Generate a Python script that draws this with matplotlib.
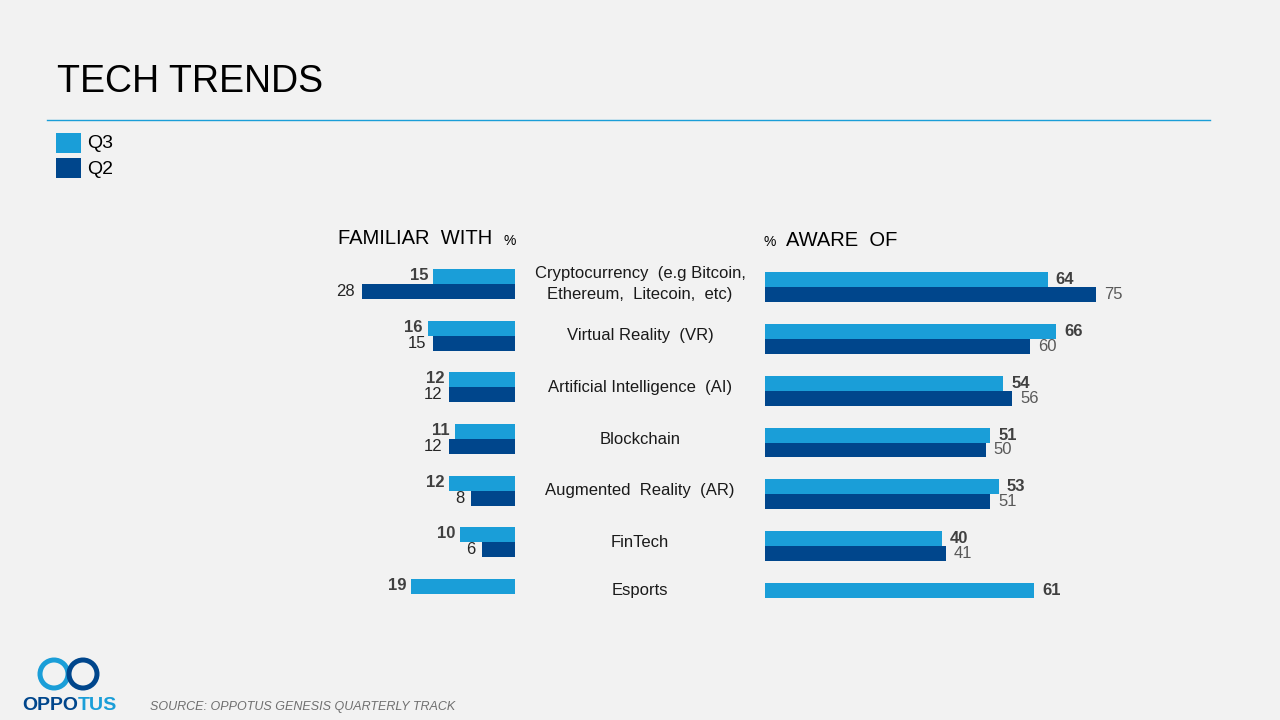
import matplotlib
matplotlib.use("Agg")
import matplotlib.pyplot as plt
from matplotlib.patches import Rectangle, Circle
from matplotlib.transforms import blended_transform_factory

plt.rcParams['font.family'] = ['Liberation Sans', 'DejaVu Sans']

categories = ["Cryptocurrency  (e.g Bitcoin,\nEthereum,  Litecoin,  etc)",
              "Virtual Reality  (VR)", "Artificial Intelligence  (AI)",
              "Blockchain", "Augmented  Reality  (AR)", "FinTech", "Esports"]
familiar_q3 = [15, 16, 12, 11, 12, 10, 19]
familiar_q2 = [28, 15, 12, 12, 8, 6, None]
aware_q3 = [64, 66, 54, 51, 53, 40, 61]
aware_q2 = [75, 60, 56, 50, 51, 41, None]
series_names = ["Q3", "Q2"]

C_Q3 = "#1A9ED8"
C_Q2 = "#00468C"
BG = "#F2F2F2"
W, H = 1280, 720

fig = plt.figure(figsize=(12.8, 7.2), dpi=100, facecolor=BG)


def box(x0, y0, x1, y1):
    # pixel box (top-left origin) -> figure fraction rect
    return [x0 / W, 1 - y1 / H, (x1 - x0) / W, (y1 - y0) / H]


bh = 0.29

# left chart: familiar with
axl = fig.add_axes(box(330, 258, 515, 620))
axl.set_xlim(185 / 5.46, 0)
axl.set_ylim(len(categories) - 0.5, -0.5)
for i, (a, b) in enumerate(zip(familiar_q3, familiar_q2)):
    axl.barh(i - bh / 2, a, height=bh, color=C_Q3)
    axl.annotate(str(a), xy=(a, i - bh / 2), xytext=(-5, 1), textcoords='offset pixels',
                 ha='right', va='center', fontsize=12, fontweight='bold', color='#404040')
    if b is not None:
        axl.barh(i + bh / 2, b, height=bh, color=C_Q2)
        axl.annotate(str(b), xy=(b, i + bh / 2), xytext=(-7, 0), textcoords='offset pixels',
                     ha='right', va='center', fontsize=12, color='#262626')
axl.axis('off')

# right chart: aware of
axr = fig.add_axes(box(765, 261.5, 1150, 623.5))
axr.set_xlim(0, 385 / 4.415)
axr.set_ylim(len(categories) - 0.5, -0.5)
for i, (a, b) in enumerate(zip(aware_q3, aware_q2)):
    axr.barh(i - bh / 2, a, height=bh, color=C_Q3)
    axr.annotate(str(a), xy=(a, i - bh / 2), xytext=(8, 0), textcoords='offset pixels',
                 ha='left', va='center', fontsize=12, fontweight='bold', color='#404040')
    if b is not None:
        axr.barh(i + bh / 2, b, height=bh, color=C_Q2)
        axr.annotate(str(b), xy=(b, i + bh / 2), xytext=(8, 0), textcoords='offset pixels',
                     ha='left', va='center', fontsize=12, color='#595959')
axr.axis('off')

# category labels in the middle
tr = blended_transform_factory(fig.transFigure, axl.transData)
for i, cat in enumerate(categories):
    yy = i if familiar_q2[i] is not None else i - 0.08
    fig.text(640 / W, yy, cat, transform=tr, ha='center', va='center',
             fontsize=12, color='#1a1a1a', multialignment='center', linespacing=1.45)

# overlay for slide decorations, in pixel coordinates
ov = fig.add_axes([0, 0, 1, 1], facecolor='none')
ov.set_xlim(0, W)
ov.set_ylim(H, 0)
ov.axis('off')

ov.text(57, 82, "TECH TRENDS", fontsize=27, va='center', ha='left', color='black')
ov.plot([47, 1210], [120, 120], color=C_Q3, lw=1)

for k, (name, col) in enumerate(zip(series_names, [C_Q3, C_Q2])):
    y0 = 133 + 25 * k
    ov.add_patch(Rectangle((56, y0), 25, 20, color=col, lw=0))
    ov.text(87, y0 + 11, name, fontsize=14, va='center', ha='left', color='black')

ov.text(338, 239, "FAMILIAR  WITH", fontsize=14.5, va='center', ha='left', color='black')
ov.text(503, 241, "%", fontsize=10, va='center', ha='left', color='black')
ov.text(763, 242, "%", fontsize=10, va='center', ha='left', color='black')
ov.text(786, 240, "AWARE  OF", fontsize=14.5, va='center', ha='left', color='black')

ov.text(150, 707, "SOURCE: OPPOTUS GENESIS QUARTERLY TRACK", fontsize=9, style='italic',
        va='center', ha='left', color='#6f6f6f')

# logo
ov.add_patch(Circle((54, 674), 14, fill=False, ec=C_Q3, lw=3.6))
ov.add_patch(Circle((83, 674), 14, fill=False, ec=C_Q2, lw=3.6))
ov.text(22, 705, "OPPO", fontsize=14, fontweight='heavy', color=C_Q2, va='center', ha='left')
ov.text(78, 705, "TUS", fontsize=14, fontweight='heavy', color=C_Q3, va='center', ha='left')

fig.savefig("out.png", dpi=100, facecolor=BG)
